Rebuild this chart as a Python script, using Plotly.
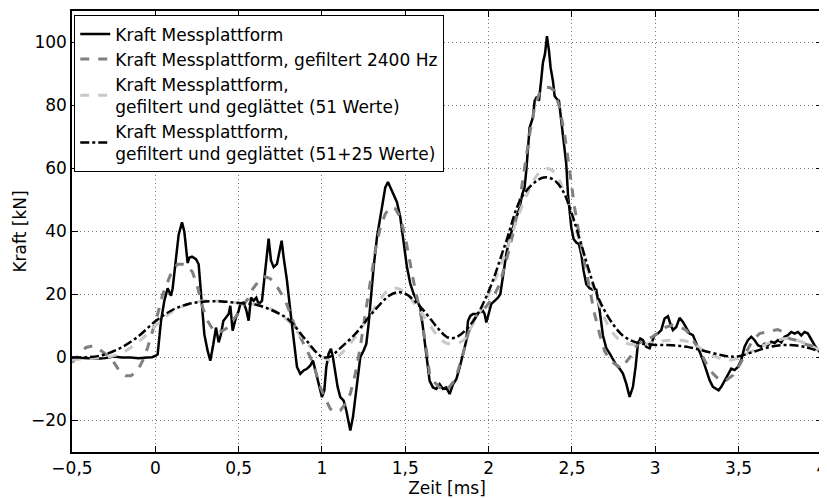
import plotly.graph_objects as go

# --- Kraft Messplattform (raw) ---
raw_x = [-0.5, -0.45, -0.4, -0.35, -0.3, -0.25, -0.2, -0.15, -0.1, -0.05, -0.02, 0.0, 0.014, 0.034, 0.054,
         0.074, 0.094, 0.104, 0.124, 0.14, 0.16, 0.174, 0.194, 0.204, 0.22, 0.244, 0.26, 0.274, 0.294,
         0.314, 0.33, 0.348, 0.364, 0.38, 0.394, 0.408, 0.424, 0.44, 0.45, 0.464, 0.484, 0.5,
         0.51, 0.53, 0.546, 0.56, 0.574, 0.59, 0.606, 0.62, 0.64, 0.654, 0.666, 0.68, 0.694, 0.71, 0.73,
         0.746, 0.758, 0.77, 0.79, 0.81, 0.83, 0.85, 0.87, 0.89, 0.91, 0.93, 0.946, 0.96, 0.98, 1.0,
         1.014, 1.026, 1.04, 1.054, 1.066, 1.08, 1.094, 1.11, 1.13, 1.146, 1.16, 1.17, 1.186, 1.2, 1.214,
         1.23, 1.25, 1.266, 1.28, 1.294, 1.31, 1.33, 1.35, 1.366, 1.38, 1.396, 1.414, 1.43, 1.45, 1.47,
         1.49, 1.51, 1.53, 1.55, 1.57, 1.59, 1.606, 1.626, 1.646, 1.666, 1.686, 1.706, 1.726, 1.746,
         1.766, 1.786, 1.806, 1.826, 1.846, 1.866, 1.876, 1.89, 1.906, 1.926, 1.946, 1.966, 1.976,
         1.986, 2.0, 2.016, 2.036, 2.056, 2.07, 2.086, 2.106, 2.126, 2.146, 2.166, 2.186, 2.202, 2.216,
         2.226, 2.236, 2.246, 2.266, 2.276, 2.29, 2.302, 2.316, 2.326, 2.338, 2.35, 2.362, 2.372, 2.386,
         2.396, 2.41, 2.422, 2.436, 2.45, 2.466, 2.476, 2.486, 2.496, 2.51, 2.526, 2.542, 2.556, 2.57,
         2.586, 2.606, 2.626, 2.646, 2.666, 2.686, 2.706, 2.726, 2.746, 2.766, 2.786, 2.806, 2.826,
         2.846, 2.866, 2.882, 2.896, 2.91, 2.926, 2.946, 2.966, 2.976, 2.996, 3.016, 3.036, 3.056,
         3.076, 3.09, 3.106, 3.126, 3.146, 3.166, 3.186, 3.206, 3.226, 3.246, 3.266, 3.286, 3.306,
         3.326, 3.346, 3.366, 3.38, 3.396, 3.416, 3.436, 3.456, 3.476, 3.496, 3.516, 3.536, 3.556,
         3.576, 3.596, 3.616, 3.636, 3.656, 3.676, 3.696, 3.716, 3.736, 3.756, 3.776, 3.796, 3.816,
         3.836, 3.856, 3.876, 3.896, 3.916, 3.936, 3.956, 3.976, 4.0]
raw_y = [0.0, 0.0, -0.2, -0.4, -0.2, 0.3, 0.0, 0.0, -0.2, 0.0, 0.1, 0.5, 1.0, 11.6, 18.0,
         22.0, 19.6, 22.0, 31.7, 39.0, 42.9, 40.0, 30.0, 31.7, 32.0, 31.2, 29.6, 20.0, 7.4,
         2.1, -1.0, 4.2, 9.5, 4.8, 7.4, 11.6, 12.7, 13.8, 16.4, 8.5, 12.7, 14.8,
         17.0, 17.5, 15.0, 11.7, 19.0, 18.0, 19.0, 17.0, 18.0, 25.5, 31.8, 37.7, 30.8, 28.7, 29.7,
         34.0, 37.1, 31.8, 24.4, 14.9, 6.5, -3.0, -5.2, -4.1, -3.6, -2.5, -1.0, -4.1, -8.4, -12.6,
         -10.5, -3.0, 1.2, 2.8, 0.0, -5.2, -9.4, -12.6, -13.7, -16.8, -21.0, -23.2, -18.9, -12.6, -5.2,
         0.1, 2.2, 4.3, 10.7, 20.2, 28.7, 38.2, 44.5, 49.8, 54.0, 55.7, 53.5, 51.4, 49.3, 44.5,
         36.0, 28.7, 23.4, 20.2, 18.0, 16.0, 9.5, 1.0, -7.4, -9.5, -10.0, -8.5, -10.0, -9.5,
         -11.6, -8.5, -6.9, -3.2, 1.1, 5.3, 11.6, 13.2, 13.8, 13.8, 14.3, 14.8, 13.8,
         11.1, 13.8, 17.0, 18.0, 19.0, 20.1, 26.5, 32.8, 38.1, 41.3, 44.4, 47.6, 51.9, 54.0,
         59.3, 65.6, 73.0, 76.2, 81.5, 82.8, 81.5, 88.4, 93.7, 96.3, 102.0, 97.4, 92.0, 87.8,
         83.0, 82.0, 81.5, 75.1, 68.8, 61.4, 51.9, 45.5, 41.3, 37.6, 36.5, 36.0, 32.8, 27.5,
         23.3, 22.0, 21.5, 21.5, 15.0, 7.0, 3.0, 1.3, -0.8, -2.4, -3.5, -5.1, -8.3,
         -12.5, -9.3, -3.0, 4.4, 6.0, 5.5, 3.4, 2.9, 4.4, 7.1, 7.6, 8.7, 12.4,
         13.1, 10.8, 8.7, 9.7, 12.6, 11.3, 9.2, 7.6, 7.1, 4.4, 2.3, -0.8, -4.0,
         -7.2, -9.3, -9.8, -10.4, -9.3, -7.2, -5.1, -3.5, -4.0, -3.0, -0.8, 3.4, 5.5,
         6.6, 5.5, 3.9, 3.4, 4.4, 3.9, 5.0, 4.6, 5.5, 4.8, 6.6, 7.1, 8.1,
         7.6, 8.1, 7.0, 8.1, 7.6, 5.5, 3.9, 2.3, 1.8]

# --- Kraft Messplattform, gefiltert 2400 Hz ---
filt_x = [-0.5, -0.456, -0.416, -0.376, -0.336, -0.296, -0.256, -0.216, -0.176, -0.146, -0.106, -0.076,
          -0.046, -0.016, 0.014, 0.044, 0.074, 0.104, 0.134, 0.164, 0.194, 0.224, 0.254, 0.284, 0.314,
          0.344, 0.374, 0.404, 0.434, 0.464, 0.494, 0.524, 0.554, 0.584, 0.614, 0.63, 0.66, 0.69,
          0.72, 0.75, 0.78, 0.81, 0.84, 0.87, 0.9, 0.93, 0.96, 0.99, 1.02, 1.05, 1.08, 1.11, 1.14,
          1.17, 1.2, 1.23, 1.26, 1.29, 1.32, 1.35, 1.38, 1.41, 1.44, 1.47, 1.5, 1.53, 1.56, 1.59,
          1.62, 1.646, 1.676, 1.706, 1.746, 1.786, 1.816, 1.846, 1.876, 1.906, 1.936, 1.966, 1.996,
          2.026, 2.066, 2.106, 2.146, 2.186, 2.216, 2.246, 2.276, 2.306, 2.336, 2.366, 2.396, 2.426,
          2.456, 2.486, 2.516, 2.546, 2.576, 2.606, 2.636, 2.666, 2.696, 2.726, 2.766, 2.796, 2.826,
          2.856, 2.896, 2.936, 2.986, 3.026, 3.066, 3.106, 3.146, 3.186, 3.226, 3.266, 3.306, 3.346,
          3.386, 3.426, 3.466, 3.506, 3.546, 3.586, 3.626, 3.666, 3.706, 3.736, 3.766, 3.806, 3.846,
          3.886, 3.926, 3.966, 4.0]
filt_y = [-1.6, 1.0, 3.2, 3.7, 2.6, 1.0, -1.0, -4.2, -5.8, -5.8, -4.2, -1.0,
          3.2, 8.5, 13.8, 20.0, 24.3, 28.0, 29.6, 29.6, 29.1, 27.0, 22.2, 15.9, 11.6,
          9.0, 7.9, 8.5, 9.5, 11.6, 13.8, 16.4, 18.5, 21.7, 23.8, 25.0, 25.7, 25.0,
          23.4, 20.7, 18.1, 13.9, 9.6, 6.5, 3.3, 0.1, -4.1, -9.4, -13.1, -16.3, -17.4, -16.8, -14.7,
          -11.5, -5.2, 3.3, 13.9, 24.4, 34.0, 41.4, 45.6, 47.7, 47.2, 44.5, 38.2, 29.7, 21.3, 14.5,
          5.0, -5.3, -7.9, -9.5, -10.6, -7.9, -4.2, 1.1, 7.4, 11.6, 13.8, 14.8, 16.9,
          19.0, 23.3, 30.7, 39.2, 49.7, 60.3, 70.9, 79.4, 84.1, 85.7, 85.7, 84.7, 79.4,
          70.9, 59.3, 47.6, 38.1, 29.6, 21.2, 13.8, 7.4, 2.1, -0.8, -2.4, -3.5, -1.4,
          0.7, 4.4, 5.5, 6.6, 8.1, 9.7, 10.3, 9.7, 8.7, 5.5, 2.3, -1.9, -5.1,
          -7.2, -7.2, -5.6, -2.4, 1.8, 5.5, 7.6, 8.1, 8.7, 8.9, 8.1, 6.0, 5.5,
          4.4, 3.9, 3.4, 2.1]

# --- gefiltert und geglättet (51 Werte) ---
smooth51_x = [-0.5, -0.45, -0.4, -0.3, -0.2, -0.1, 0.0, 0.1, 0.2, 0.3, 0.4, 0.5, 0.6, 0.7, 0.8, 0.9,
              1.0, 1.05, 1.1, 1.2, 1.3, 1.4, 1.45, 1.5, 1.6, 1.7, 1.75, 1.8, 1.85, 1.9, 2.0, 2.1,
              2.2, 2.3, 2.35, 2.4, 2.45, 2.5, 2.55, 2.6, 2.65, 2.7, 2.75, 2.8, 2.9, 3.0, 3.1, 3.2,
              3.3, 3.4, 3.45, 3.5, 3.6, 3.7, 3.8, 3.9, 4.0]
smooth51_y = [-0.8, -0.5, -0.3, 0.0, 1.5, 5.0, 10.0, 14.5, 17.0, 18.0, 17.8, 17.3, 16.8, 15.3, 11.5, 5.0,
              0.3, -0.8, 0.5, 6.5, 14.5, 21.5, 22.0, 20.5, 14.0, 6.5, 4.5, 4.5, 5.5, 10.0, 20.0, 33.0,
              48.0, 58.5, 60.0, 58.5, 53.0, 45.0, 36.0, 27.0, 19.0, 12.0, 7.5, 5.0, 4.0, 5.0, 5.5, 5.0,
              2.0, -0.5, -0.8, 0.0, 2.5, 5.0, 6.0, 4.5, 2.0]

# --- gefiltert und geglättet (51+25 Werte) ---
smooth76_x = [-0.5, -0.4, -0.3, -0.2, -0.1, 0.0, 0.1, 0.2, 0.3, 0.4, 0.5, 0.6, 0.7, 0.8, 0.9, 1.0,
              1.05, 1.1, 1.2, 1.3, 1.4, 1.45, 1.5, 1.6, 1.7, 1.75, 1.8, 1.9, 2.0, 2.1, 2.2, 2.3,
              2.35, 2.4, 2.45, 2.5, 2.55, 2.6, 2.65, 2.7, 2.75, 2.8, 2.85, 2.9, 3.0, 3.1, 3.2, 3.3,
              3.4, 3.45, 3.5, 3.6, 3.7, 3.8, 3.9, 4.0]
smooth76_y = [0.0, 0.1, 1.0, 3.3, 6.8, 11.5, 15.0, 17.0, 17.8, 17.8, 17.3, 16.8, 15.0, 12.0, 5.8, 0.2,
              0.3, 2.5, 7.5, 14.0, 19.5, 20.7, 20.3, 15.5, 9.0, 6.5, 6.3, 11.0, 21.0, 36.0, 51.0, 56.5,
              57.2, 56.0, 52.5, 45.5, 37.0, 28.0, 20.0, 14.5, 10.3, 7.2, 5.5, 4.6, 4.0, 3.9, 3.3, 2.0,
              0.7, 0.3, 0.4, 2.0, 3.5, 4.0, 3.3, 1.6]

x_tickvals = [-0.5, 0, 0.5, 1, 1.5, 2, 2.5, 3, 3.5, 4]
x_ticktext = ["\u22120,5", "0", "0,5", "1", "1,5", "2", "2,5", "3", "3,5", "4"]
y_tickvals = [-20, 0, 20, 40, 60, 80, 100]
y_ticktext = ["\u221220", "0", "20", "40", "60", "80", "100"]

FONT = "DejaVu Sans, sans-serif"
FS = 17

fig = go.Figure()
fig.add_trace(go.Scatter(x=raw_x, y=raw_y, mode="lines", name="Kraft Messplattform",
                         line=dict(color="black", width=2.5)))
fig.add_trace(go.Scatter(x=filt_x, y=filt_y, mode="lines", name="Kraft Messplattform, gefiltert 2400 Hz",
                         line=dict(color="#808080", width=3, dash="dash")))
fig.add_trace(go.Scatter(x=smooth51_x, y=smooth51_y, mode="lines", line_shape="spline",
                         name="Kraft Messplattform,<br>gefiltert und geglättet (51 Werte)",
                         line=dict(color="#c8c8c8", width=3, dash="dash")))
fig.add_trace(go.Scatter(x=smooth76_x, y=smooth76_y, mode="lines", line_shape="spline",
                         name="Kraft Messplattform,<br>gefiltert und geglättet (51+25 Werte)",
                         line=dict(color="black", width=2.5, dash="dashdot")))

axis_common = dict(showline=True, linecolor="black", linewidth=1.5, mirror="ticks",
                   ticks="inside", ticklen=6, tickcolor="black", tickwidth=1,
                   showgrid=True, gridcolor="#777777", griddash="1px,3px", gridwidth=1,
                   zeroline=False, ticklabeloverflow="allow",
                   tickfont=dict(family=FONT, size=FS, color="black"))

# page body adds an 8px offset: figure is sized to fit the 827x498 window
fig.update_layout(
    width=819, height=490,
    margin=dict(l=64, r=5, t=3, b=46),
    paper_bgcolor="white", plot_bgcolor="white",
    font=dict(family=FONT, size=FS, color="black"),
    showlegend=True,
    legend=dict(x=0.003, y=0.99, xanchor="left", yanchor="top",
                bgcolor="white", bordercolor="black", borderwidth=1,
                font=dict(family=FONT, size=FS, color="black"),
                itemwidth=30, tracegroupgap=0),
    xaxis=dict(range=[-0.5, 4.0005], tickvals=x_tickvals, ticktext=x_ticktext,
               title=dict(text="Zeit [ms]", standoff=0, font=dict(family=FONT, size=FS)),
               automargin=False, **axis_common),
    yaxis=dict(range=[-30, 110], tickvals=y_tickvals, ticktext=y_ticktext,
               title=dict(text="Kraft [kN]", standoff=0, font=dict(family=FONT, size=FS)),
               automargin=False, **axis_common),
)

fig.write_html("out.html")
